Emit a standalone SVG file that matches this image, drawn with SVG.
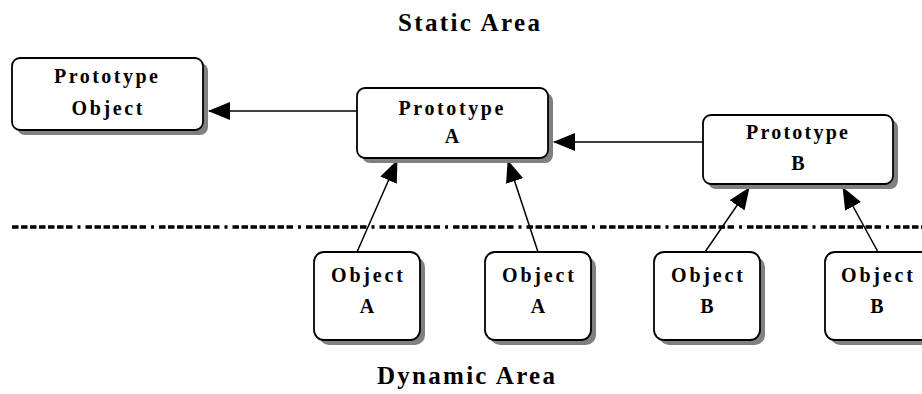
<svg xmlns="http://www.w3.org/2000/svg" width="922" height="394" viewBox="0 0 922 394">
  <style>
    .box { fill: #ffffff; stroke: #000000; stroke-width: 1.8; }
    .shadow { fill: #808080; stroke: none; }
    .lbl { font-family: "Liberation Serif", "Times New Roman", serif; font-weight: bold; font-size: 20px; fill: #000000; text-anchor: middle; }
    .area { font-family: "Liberation Serif", "Times New Roman", serif; font-weight: bold; font-size: 25px; fill: #000000; text-anchor: middle; }
    .conn { stroke: #000000; stroke-width: 1.5; fill: none; marker-end: url(#head); }
  </style>
  <defs>
    <marker id="head" markerUnits="userSpaceOnUse" markerWidth="22" markerHeight="18" refX="21" refY="9" orient="auto" viewBox="0 0 22 18">
      <path d="M0,0 L22,9 L0,18 Z" fill="#000000"/>
    </marker>
  </defs>
  <rect width="922" height="394" fill="#ffffff"/>

  <text class="area" x="469" y="31" textLength="142">Static Area</text>
  <text class="area" x="466" y="384" textLength="178">Dynamic Area</text>

  <line x1="12" y1="227" x2="922" y2="227" stroke="#000000" stroke-width="3.5" stroke-dasharray="6.5 2.5 6.5 2.5 6.5 2.5 6.5 2.5 6.5 2.5 6.5 2.5 6.5 5 3 5"/>

  <g id="connectors">
    <line class="conn" x1="357" y1="111" x2="209" y2="111"/>
    <line class="conn" x1="703" y1="142" x2="554" y2="142"/>
    <line class="conn" x1="357" y1="252" x2="397" y2="161"/>
    <line class="conn" x1="538" y1="252" x2="508" y2="161"/>
    <line class="conn" x1="705" y1="252" x2="749" y2="188"/>
    <line class="conn" x1="878" y1="252" x2="843" y2="188"/>
  </g>

  <g id="prototype-object">
    <rect class="shadow" x="17" y="63" width="191" height="72" rx="8"/>
    <rect class="box" x="12" y="58" width="191" height="72" rx="8"/>
    <text class="lbl" x="106" y="83" textLength="104">Prototype</text>
    <text class="lbl" x="107" y="115" textLength="71">Object</text>
  </g>

  <g id="prototype-a">
    <rect class="shadow" x="362" y="93" width="191" height="70" rx="8"/>
    <rect class="box" x="357" y="88" width="191" height="70" rx="8"/>
    <text class="lbl" x="451" y="115" textLength="105">Prototype</text>
    <text class="lbl" x="452" y="143">A</text>
  </g>

  <g id="prototype-b">
    <rect class="shadow" x="708" y="120" width="190" height="69" rx="8"/>
    <rect class="box" x="703" y="115" width="190" height="69" rx="8"/>
    <text class="lbl" x="797" y="139" textLength="102">Prototype</text>
    <text class="lbl" x="798" y="170">B</text>
  </g>

  <g id="object-a1">
    <rect class="shadow" x="319" y="257" width="106" height="88" rx="10"/>
    <rect class="box" x="314" y="252" width="106" height="88" rx="10"/>
    <text class="lbl" x="367" y="282" textLength="72">Object</text>
    <text class="lbl" x="367" y="313">A</text>
  </g>

  <g id="object-a2">
    <rect class="shadow" x="490" y="257" width="106" height="88" rx="10"/>
    <rect class="box" x="485" y="252" width="106" height="88" rx="10"/>
    <text class="lbl" x="538" y="282" textLength="72">Object</text>
    <text class="lbl" x="538" y="313">A</text>
  </g>

  <g id="object-b1">
    <rect class="shadow" x="659" y="257" width="106" height="88" rx="10"/>
    <rect class="box" x="654" y="252" width="106" height="88" rx="10"/>
    <text class="lbl" x="707" y="282" textLength="72">Object</text>
    <text class="lbl" x="707" y="313">B</text>
  </g>

  <g id="object-b2">
    <rect class="shadow" x="830" y="257" width="106" height="88" rx="10"/>
    <rect class="box" x="825" y="252" width="106" height="88" rx="10"/>
    <text class="lbl" x="877" y="282" textLength="72">Object</text>
    <text class="lbl" x="877" y="313">B</text>
  </g>
</svg>
